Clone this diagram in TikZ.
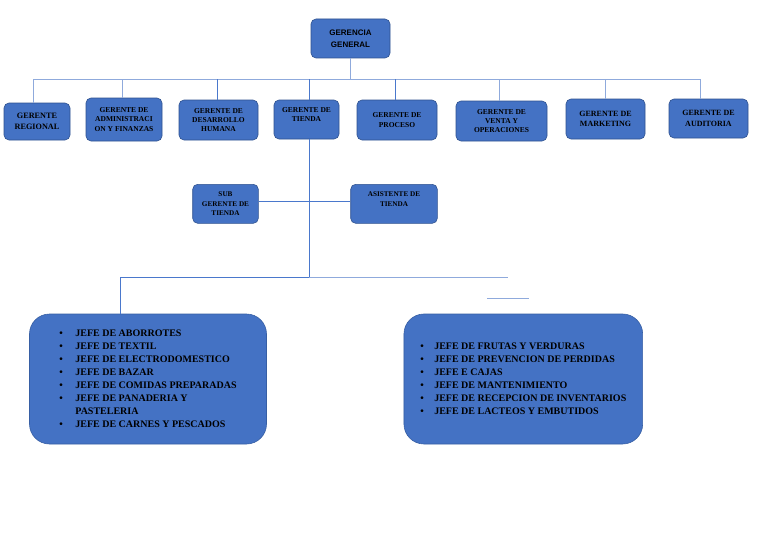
\documentclass[tikz,border=0pt]{standalone}
\usepackage{fontspec}
\setmainfont{Liberation Serif}
\newfontfamily\gsans{Liberation Sans}
\definecolor{boxfill}{HTML}{4472C4}
\definecolor{boxedge}{HTML}{2F528F}
\definecolor{conn}{HTML}{4A78CC}
\definecolor{connlight}{HTML}{8FAADC}
\begin{document}
\begin{tikzpicture}[x=1pt,y=-1pt,
 box/.style={draw=boxedge, fill=boxfill, line width=0.6pt, rounded corners=5pt, inner sep=0pt, align=center, text=black},
 rowtxt/.style={font=\fontsize{7.5}{9.3}\selectfont\bfseries},
 rowbig/.style={font=\fontsize{8}{10.7}\selectfont\bfseries},
 subtxt/.style={font=\fontsize{7.2}{9.2}\selectfont\bfseries},
 bigbox/.style={box, draw=boxedge!60!boxfill, rounded corners=20pt, minimum height=130, font=\fontsize{10}{13}\selectfont\bfseries},
 link/.style={draw=conn, line width=0.8pt},
 linklight/.style={draw=connlight, line width=0.8pt}]
\path[fill=white] (0,0) rectangle (768,543);
% top
\node[box, minimum width=79, minimum height=39, font=\gsans\fontsize{8}{12.3}\selectfont\bfseries] (gg) at (350.5,38.5) {GERENCIA\\GENERAL};
% row of managers
\node[box, minimum width=66, minimum height=37, font=\fontsize{8.2}{11}\selectfont\bfseries] (reg) at (37,121.5) {GERENTE\\REGIONAL};
\node[box, rowtxt, minimum width=76, minimum height=43] (adm) at (124,119.5) {GERENTE DE\\ADMINISTRACI\\ON Y FINANZAS};
\node[box, rowtxt, minimum width=79, minimum height=40] (des) at (218.5,120) {GERENTE DE\\DESARROLLO\\HUMANA};
\node[box, rowtxt, minimum width=65, minimum height=39] (tie) at (306.5,119.5) {GERENTE DE\\TIENDA\\~};
\node[box, rowtxt, minimum width=80, minimum height=40] (pro) at (397,120) {GERENTE DE\\PROCESO};
\node[box, rowtxt, minimum width=91, minimum height=40] (ven) at (501.5,121) {GERENTE DE\\VENTA Y\\OPERACIONES};
\node[box, rowbig, minimum width=79, minimum height=40] (mkt) at (605.5,119) {GERENTE DE\\MARKETING};
\node[box, rowbig, minimum width=79, minimum height=39] (aud) at (708.5,118.5) {GERENTE DE\\AUDITORIA};
% bus
\coordinate (busL) at (33,79);
\coordinate (busR) at (700,79);
\draw[linklight] (busL) -- (busR);
\draw[linklight] (gg.south) -- (gg.south |- busL);
\draw[linklight] (busL) -- (busL |- reg.north);
\draw[linklight] ([xshift=-2]adm.north) -- ([xshift=-2]adm.north |- busL);
\draw[link] ([xshift=-1.5]des.north) -- ([xshift=-1.5]des.north |- busL);
\draw[link] ([xshift=2.5]tie.north) -- ([xshift=2.5]tie.north |- busL);
\draw[link] ([xshift=-1.5]pro.north) -- ([xshift=-1.5]pro.north |- busL);
\draw[linklight] ([xshift=-2]ven.north) -- ([xshift=-2]ven.north |- busL);
\draw[linklight] (mkt.north) -- (mkt.north |- busL);
\draw[linklight] (busR) -- (busR |- aud.north);
% store level
\node[box, subtxt, minimum width=65.6, minimum height=39] (sub) at (225.5,203.8) {SUB\\GERENTE DE\\TIENDA};
\node[box, subtxt, minimum width=86.6, minimum height=39] (asi) at (394,203.8) {ASISTENTE DE\\TIENDA\\~};
\coordinate (tdown) at (309,277);
\coordinate (rend) at (508,277);
\coordinate (lend) at (120,277);
\coordinate (s1) at (487,298.5);
\coordinate (s2) at (529,298.5);
\draw[link] ([xshift=2.5]tie.south) -- (tdown);
\draw[link] (sub.east |- 0,201.7) -- (asi.west |- 0,201.7);
\draw[link] (tdown) -- (lend);
\draw[linklight] (tdown) -- (rend);
\draw[linklight] (s1) -- (s2);
% department heads
\node[bigbox, minimum width=237] (jl) at (148,379) {%
\begin{tabular}{@{}p{16pt}@{}l@{}}
\textbullet & JEFE DE ABORROTES\\
\textbullet & JEFE DE TEXTIL\\
\textbullet & JEFE DE ELECTRODOMESTICO\\
\textbullet & JEFE DE BAZAR\\
\textbullet & JEFE DE COMIDAS PREPARADAS\\
\textbullet & JEFE DE PANADERIA Y\\
 & PASTELERIA\\
\textbullet & JEFE DE CARNES Y PESCADOS
\end{tabular}};
\node[bigbox, minimum width=238.7] (jr) at (523.3,379) {%
\begin{tabular}{@{}p{14pt}@{}l@{}}
\textbullet & JEFE DE FRUTAS Y VERDURAS\\
\textbullet & JEFE DE PREVENCION DE PERDIDAS\\
\textbullet & JEFE E CAJAS\\
\textbullet & JEFE DE MANTENIMIENTO\\
\textbullet & JEFE DE RECEPCION DE INVENTARIOS\\
\textbullet & JEFE DE LACTEOS Y EMBUTIDOS
\end{tabular}};
\draw[link] (lend) -- (lend |- jl.north);
\end{tikzpicture}
\end{document}
